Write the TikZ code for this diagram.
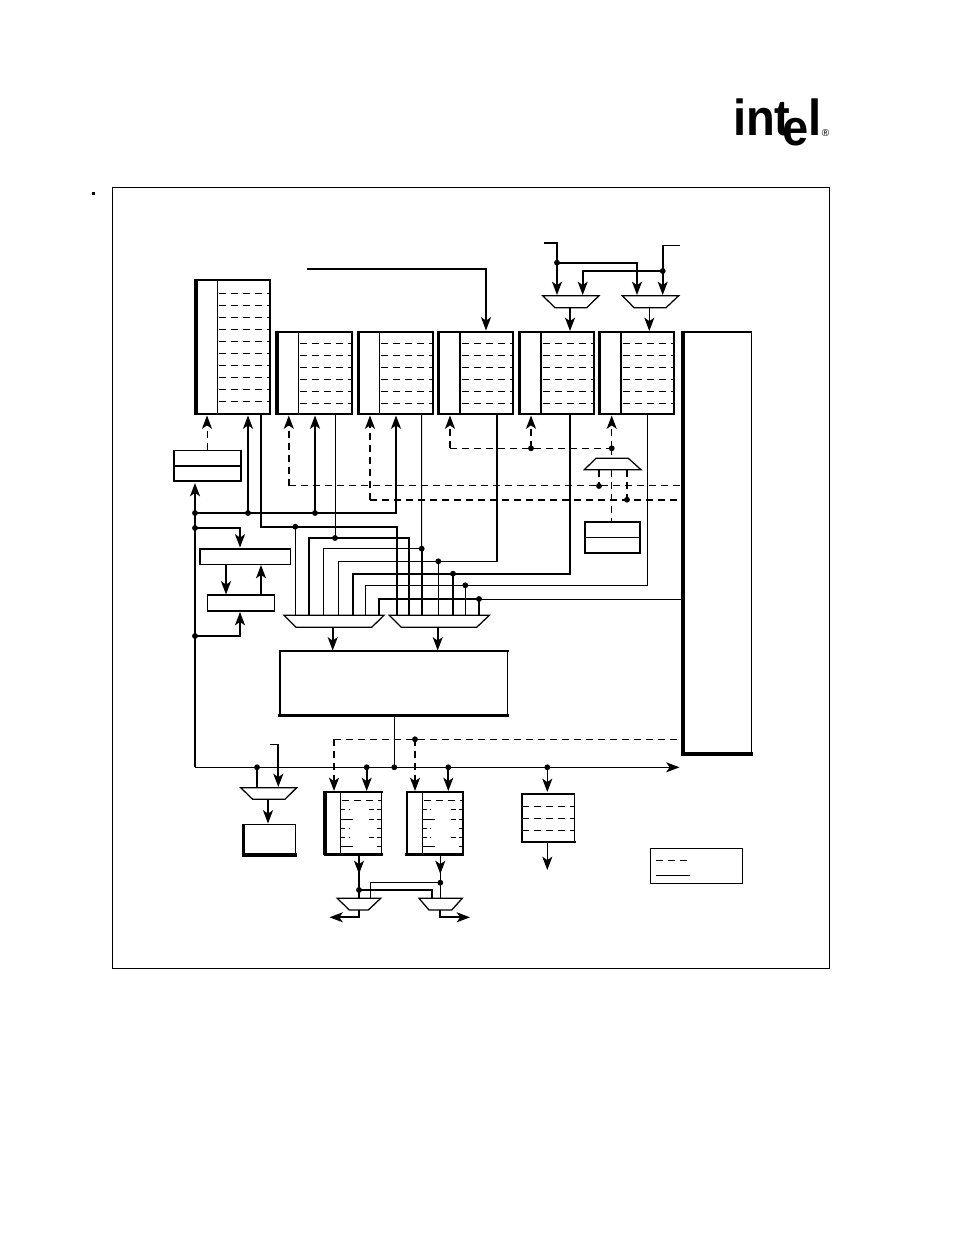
\documentclass[tikz,border=0pt]{standalone}
\usepackage{fontspec}
\setmainfont{Liberation Sans}
\usetikzlibrary{arrows.meta,calc}
\tikzset{
  hvy/.style={line width=1.25pt},
  med/.style={line width=0.95pt},
  thn/.style={line width=0.75pt},
  dsh/.style={dash pattern=on 5.2pt off 3.8pt},
  arr/.style={-{Stealth[length=10pt,width=7.5pt,inset=2.6pt]}},
  dot/.style={circle,fill=black,inner sep=0pt,minimum size=4.4pt},
  regn/.style={inner sep=0pt,outer sep=0pt,anchor=north west},
  rowline/.style={line width=0.75pt,dash pattern=on 5.2pt off 3.8pt},
}
% name, x0, y0, x1, y1
\newcommand\regn[5]{\node[regn,minimum width={(#4-#2)*0.75pt},minimum height={(#5-#3)*0.75pt}] (#1) at (#2,#3) {};}
% name, left, top, right, bottom widths
\newcommand\edges[5]{%
  \draw[line width=#4,line cap=rect] (#1.north east)--(#1.south east);
  \draw[line width=#2] ([yshift=0.5pt]#1.north west)--([yshift=-0.5pt]#1.south west);
  \draw[line width=#3,line cap=rect] (#1.north west)--(#1.north east);
  \draw[line width=#5,line cap=rect] (#1.south west)--(#1.south east);}
% name, xdiv, width
\newcommand\dvd[3]{\draw[line width=#3] (#2,0 |- #1.north)--(#2,0 |- #1.south);}
% x0, x1, ystart, step, count
\newcommand\rows[5]{\foreach \k in {1,...,#5}{\draw[rowline] (#1,{#3+(\k-1)*#4})--(#2,{#3+(\k-1)*#4});}}
% name, xt0, xt1, xb0, xb1, ytop, ybot
\newcommand\mux[7]{%
  \node[inner sep=0pt,outer sep=0pt] (#1) at ({(#2+#3)/2},{(#6+#7)/2}) {};
  \draw[med,line join=miter] (#2,#6)--(#3,#6)--(#5,#7)--(#4,#7)--cycle;}
\begin{document}
\begin{tikzpicture}[x=0.75pt,y=-0.75pt]
\useasboundingbox (0,0) rectangle (954,1235);
\fill[white] (0,0) rectangle (954,1235);

% page mark and frame
\node[fill=black,inner sep=0pt,minimum size=2.4pt] (mark) at (93.5,193.3) {};
\node[regn,draw,thn,minimum width={(829.7-112.5)*0.75pt},minimum height={(968-187.5)*0.75pt}] (frame) at (112.5,187.5) {};

% logo
\node[anchor=base west,inner sep=0pt,xscale=.93,transform shape] (logo) at (733,135)
  {\fontsize{38}{38}\selectfont\bfseries in\kern-.5pt t\kern-6pt\raisebox{-8pt}{e}\kern-.5pt l};
\node[inner sep=0pt] (reg) at (825.5,133) {\fontsize{7.5}{8}\selectfont ®};

% ---------- registers ----------
\regn{r1}{196}{280}{270}{414}
\regn{r2}{277}{332}{352}{414}
\regn{r3}{358.5}{332}{433}{414}
\regn{r4}{438.5}{332}{513}{414}
\regn{r5}{519.5}{332}{594}{414}
\regn{r6}{599.5}{332}{674}{414}
\regn{big}{683}{332}{751.5}{754}
\regn{alu}{280}{651}{507.5}{715.5}
\regn{sm1}{174}{450.5}{241}{481}
\regn{sm2}{585}{522}{640}{553}
\regn{wide}{200}{549}{290.5}{564.5}
\regn{nar}{207.5}{595}{274.5}{611}
\regn{fl}{243.5}{824.5}{295.5}{855}
\regn{l1}{325}{792}{381.5}{854.5}
\regn{l2}{406.5}{792}{463}{854.5}
\regn{rr}{522}{794}{574.5}{842}
\regn{leg}{650.5}{848.5}{742.5}{883.5}

\edges{r1}{3pt}{1.5pt}{0.8pt}{1.9pt}
\edges{r2}{2.4pt}{1.5pt}{1.3pt}{1.9pt}
\edges{r3}{1.8pt}{1.5pt}{1.3pt}{1.9pt}
\edges{r4}{1.8pt}{1.5pt}{1.2pt}{1.9pt}
\edges{r5}{2pt}{1.5pt}{1.1pt}{1.9pt}
\edges{r6}{2pt}{1.5pt}{0.9pt}{1.9pt}
\edges{big}{2.6pt}{1.3pt}{0.8pt}{2.6pt}
\edges{alu}{2pt}{1.5pt}{0.75pt}{2.6pt}
\edges{sm1}{1.1pt}{1.1pt}{1.1pt}{1.1pt}
\draw[line width=1.25pt] (sm1.west)--(sm1.east);
\edges{sm2}{1.25pt}{1.25pt}{1.25pt}{1.25pt}
\draw[thn] (sm2.west)--(sm2.east);
\edges{wide}{0.8pt}{0.8pt}{0.8pt}{0.8pt}
\edges{nar}{0.8pt}{1.3pt}{0.8pt}{0.8pt}
\edges{fl}{2.2pt}{1.2pt}{0.75pt}{2.6pt}
\edges{l1}{2.6pt}{1.5pt}{1.2pt}{1.7pt}
\edges{l2}{1.5pt}{1.5pt}{1.2pt}{1.7pt}
\edges{rr}{2pt}{0.8pt}{0.8pt}{2.2pt}
\edges{leg}{0.8pt}{0.8pt}{0.8pt}{0.8pt}

\dvd{r1}{217.5}{0.8pt}
\dvd{r2}{298.5}{0.8pt}
\dvd{r3}{379.5}{0.8pt}
\dvd{r4}{460}{1.3pt}
\dvd{r5}{541}{1.3pt}
\dvd{r6}{621}{1.3pt}
\dvd{l1}{340.5}{0.75pt}
\dvd{l2}{422.5}{0.75pt}

\rows{219}{270}{293.3}{12}{10}
\rows{300}{352}{343.3}{12}{6}
\rows{381}{433}{343.3}{12}{6}
\rows{462}{513}{343.3}{12}{6}
\rows{543}{594}{343.3}{12}{6}
\rows{623}{674}{343.3}{12}{6}
\rows{522}{574.5}{806.3}{12}{3}

% worn dashes of the two lower registers
\foreach \xo in {0,81.7}{
  \draw[rowline] ({342+\xo},800.3)--({381.5+\xo},800.3);
  \foreach \yy in {809.7,828.3,837.3}{\draw[thn] ({341+\xo},\yy)--({345+\xo},\yy);
    \fill ({348.5+\xo},{\yy-.5}) rectangle ({349.5+\xo},{\yy+.5});
    \draw[thn] ({377+\xo},\yy)--({381.5+\xo},\yy);}
  \foreach \yy in {819,846.3}{\draw[thn] ({341+\xo},\yy)--({353+\xo},\yy);\draw[thn] ({377+\xo},\yy)--({381.5+\xo},\yy);}
  \draw[thn] ({369+\xo},819)--({374+\xo},819);
  \draw[thn] ({369+\xo},809.7)--({374+\xo},809.7);
  \draw[thn] ({369+\xo},837.3)--({374+\xo},837.3);
}

% legend
\coordinate (lega) at (656,860.3);\coordinate (legb) at (688.5,860.3);
\coordinate (legc) at (656,875.3);\coordinate (legd) at (690,875.3);
\draw[rowline] (lega)--(legb);
\draw[thn] (legc)--(legd);

% ---------- multiplexers ----------
\mux{mt1}{542.7}{599}{555}{586.7}{295.7}{307.7}
\mux{mt2}{622.3}{678.7}{634}{666}{295.7}{307.7}
\mux{mm}{584.3}{641}{596}{628.3}{469.7}{458.3}
\mux{ml}{284}{384}{296}{371.7}{615.3}{627.3}
\mux{mr}{389.3}{489.3}{401.3}{476.7}{615.3}{627.3}
\mux{mf}{240.7}{296.7}{252.7}{285}{787.7}{799.3}
\mux{ma}{337.3}{380.7}{349.3}{368.3}{898.3}{910}
\mux{mb}{419}{462.3}{429}{451.7}{898.3}{910}

% ---------- top inputs ----------
\coordinate (top) at (307,269);
\draw[hvy,arr] (top) -| (486,330.5);
\coordinate (ia) at (544,242.7);
\coordinate (ib) at (680,245.3);
\node[dot] (ja) at (557,262.7) {};
\node[dot] (jb) at (662.7,271) {};
\draw[hvy,arr] (ia) -| (557,295);
\draw[hvy,arr] (ja.center) -| (637,295);
\draw[thn] (ib) -- (662.7,245.3);
\draw[hvy,arr] (662.7,245.3) -- (662.7,295);
\draw[hvy,arr] (jb.center) -| (582.7,295);
\draw[hvy,arr] (570,307.7) -- (570,331);
\draw[thn,arr] (649.3,307.7) -- (649.3,331);

% ---------- left side ----------
\node[dot] (b1) at (195,513) {};
\node[dot] (b2) at (195,528) {};
\node[dot] (b3) at (195,636) {};
\node[dot] (c1) at (248,513) {};
\node[dot] (c2) at (315,513) {};
\coordinate (busL) at (195,767.3);
\coordinate (busR) at (679.5,767.3);
\draw[thn,arr] (busL) -- (busR);
\draw[med] (busL) -- (b3.center);
\draw[hvy,arr] (b3.center) -- (195,483);
\draw[hvy] (b1.center) -| (396,490);
\draw[hvy,arr] (396,490) -- (396,415.5);
\draw[hvy,arr] (c1.center) -- (248,415.5);
\draw[hvy,arr] (c2.center) -- (315,415.5);
\draw[hvy,arr] (b2.center) -| (240,547.5);
\draw[hvy,arr] (b3.center) -| (240,612);
\draw[hvy,arr] (226,564.5) -- (226,594.5);
\draw[hvy,arr] (261,595) -- (261,565);

% dashed control lines
\coordinate (d1) at (288.8,485.5);
\coordinate (d2) at (370,500);
\draw[thn,dsh,arr] (207,450) -- (207,415.5);
\draw[hvy,dsh,arr] (d1) -- (288.8,415.5);
\draw[hvy,dsh,arr] (d2) -- (370,415.5);
\draw[thn,dsh] (d1) -- (d1 -| big.west);
\draw[hvy,dsh] (d2) -- (d2 -| big.west);
\node[dot] (e1) at (531,448.3) {};
\node[dot] (e2) at (611.7,448.3) {};
\coordinate (e0) at (450,448.3);
\draw[thn,dsh] (e0) -- (e2.center);
\draw[hvy,dsh,arr] (e0) -- (450,415.5);
\draw[hvy,dsh,arr] (e1.center) -- (531,415.5);
\draw[thn,dsh,arr] (e2.center) -- (611.7,415.5);
\draw[thn,dsh] (e2.center) -- (611.7,458.3);
\draw[thn,dsh] (611.7,469.7) -- (611.7,522);
\node[dot] (e3) at (599,486) {};
\node[dot] (e4) at (627,499.7) {};
\draw[hvy,dsh] (599,470) -- (e3.center);
\draw[hvy,dsh] (627,470) -- (e4.center);

% ---------- operand buses ----------
\node[dot] (f1) at (295.3,526.7) {};
\node[dot] (f2) at (335,538) {};
\node[dot] (f3) at (421.7,548.7) {};
\node[dot] (f4) at (438.3,561.3) {};
\node[dot] (f5) at (453,573.7) {};
\node[dot] (f6) at (465.3,585.3) {};
\node[dot] (f7) at (479,599) {};
\draw[hvy] (261,414) |- (f1.center) -| (397,615.3);
\draw[thn] (f1.center) -- (295.3,615.3);
\draw[hvy] (309,615.3) |- (f2.center) -| (409.3,615.3);
\draw[thn] (335,414) -- (f2.center);
\draw[thn] (421.5,414) -- (f3.center);
\draw[thn] (323.3,615.3) |- (f3.center);
\draw[hvy] (f3.center) -- (421.7,615.3);
\draw[thn] (338.3,615.3) |- (f4.center) -- (496.7,561.3);
\draw[hvy] (496.7,561.7) -- (496.7,414);
\draw[thn] (f4.center) -- (438.3,615.3);
\draw[hvy] (353,615.3) |- (f5.center) -| (570,414);
\draw[hvy] (f5.center) -- (453,615.3);
\draw[thn] (365.3,615.3) |- (f6.center) -- (647.3,585.3);
\draw[med] (647.3,585.7) -- (647.3,414);
\draw[thn] (f6.center) -- (465.3,615.3);
\draw[hvy] (379,615.3) |- (f7.center) -- (479,615.3);
\draw[thn] (f7.center) -- (f7 -| big.west);
\draw[hvy,arr] (332.7,627.3) -- (332.7,650.5);
\draw[hvy,arr] (437.7,627.3) -- (437.7,650.5);

% ---------- result bus ----------
\node[dot] (g1) at (257,767.3) {};
\node[dot] (g2) at (366.7,767.3) {};
\node[dot] (g3) at (394.3,767.3) {};
\node[dot] (g4) at (448.3,767.3) {};
\node[dot] (g5) at (547.3,767.3) {};
\node[dot] (g6) at (415,739.3) {};
\draw[thn] (394.3,716) -- (g3.center);
\draw[hvy] (g1.center) -- (257,787.7);
\coordinate (im) at (270,744.3);
\draw[thn] (im) -- (278.3,744.3);
\draw[hvy,arr] (278.3,744.3) -- (278.3,787);
\draw[hvy,arr] (268,799.3) -- (268,823.5);
\draw[hvy,arr] (g2.center) -- (366.7,791);
\draw[hvy,arr] (g4.center) -- (448.3,791);
\draw[thn,arr] (g5.center) -- (547.3,792);
\draw[thn,arr] (547.3,843) -- (547.3,870);
\coordinate (h0) at (334,739.3);
\draw[thn,dsh] (h0) -- (h0 -| big.west);
\draw[hvy,dsh,arr] (h0) -- (334,791);
\draw[hvy,dsh,arr] (g6.center) -- (415,791);

% ---------- lower muxes ----------
\node[dot] (k1) at (359,890) {};
\node[dot] (k2) at (440.3,882.7) {};
\draw[hvy,arr] (359,855) -- (359,874);
\draw[hvy] (359,870) -- (359,898.3);
\draw[med,arr] (440.3,855) -- (440.3,874);
\draw[thn] (440.3,870) -- (440.3,898.3);
\draw[hvy] (k1.center) -| (431.7,898.3);
\draw[med] (k2.center) -| (370.7,898.3);
\draw[hvy,arr] (359,910) |- (329.5,917.3);
\draw[hvy,arr] (440.3,910) |- (470,917.3);
\end{tikzpicture}
\end{document}
